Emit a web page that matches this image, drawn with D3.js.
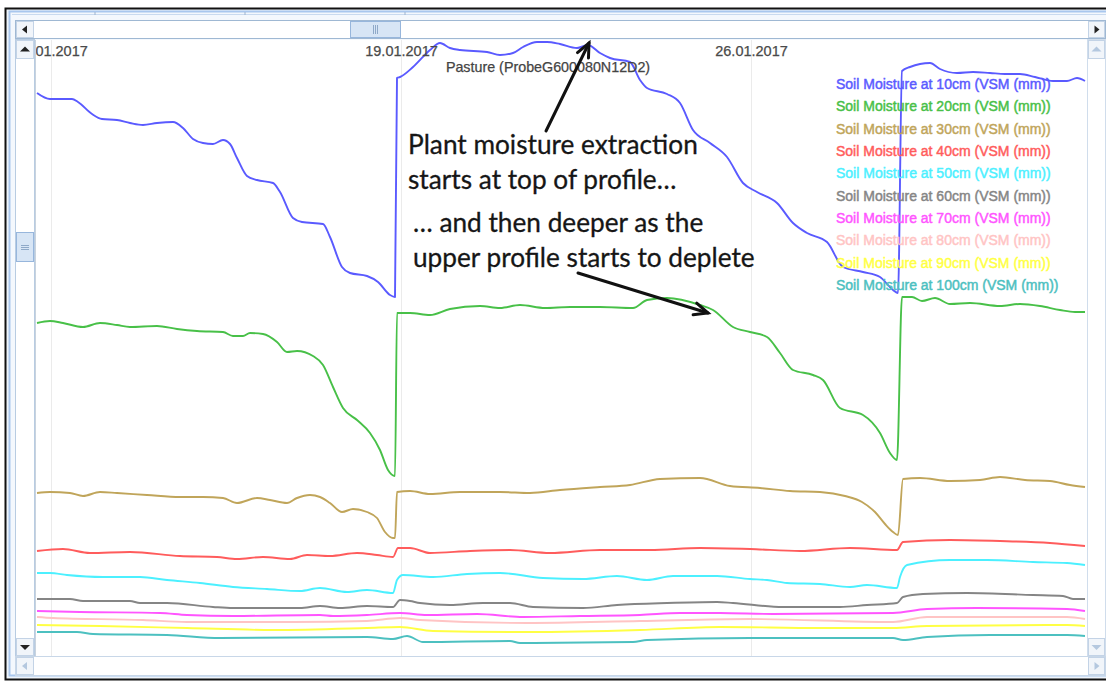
<!DOCTYPE html>
<html><head><meta charset="utf-8">
<script src="https://cdn.jsdelivr.net/npm/d3@7"></script>
<style>
html,body{margin:0;padding:0;background:#fff;overflow:hidden;}
svg{display:block;font-family:"Liberation Sans",Arial,sans-serif;}
</style></head><body>
<svg id="chart" width="1106" height="682"></svg>
<script>
// ---------------- DATA ----------------
// time = day offset from 12.01.2017 00:00, value = soil moisture (VSM, mm, relative units)
const tickLabels = ["12.01.2017", "19.01.2017", "26.01.2017"];
const chartTitle = "Pasture (ProbeG600080N12D2)";
const seriesNames = [
  "Soil Moisture at 10cm (VSM (mm))", "Soil Moisture at 20cm (VSM (mm))",
  "Soil Moisture at 30cm (VSM (mm))", "Soil Moisture at 40cm (VSM (mm))",
  "Soil Moisture at 50cm (VSM (mm))", "Soil Moisture at 60cm (VSM (mm))",
  "Soil Moisture at 70cm (VSM (mm))", "Soil Moisture at 80cm (VSM (mm))",
  "Soil Moisture at 90cm (VSM (mm))", "Soil Moisture at 100cm (VSM (mm))"
];
const seriesColors = ["#5a5aff", "#48c048", "#c0a55a", "#ff5c5c", "#4cf0ff",
                      "#858585", "#ff55ff", "#ffc4c4", "#ffff44", "#4cc0c0"];

const sm10 = [[-0.28,112.6],[-0.02,111.4],[0.42,111.4],[0.54,110.8],[0.82,108.4],[1.02,107.4],[1.32,107.2],[1.58,106.6],[1.84,106.2],[2.12,106.6],[2.44,106.8],[2.64,105.6],[2.84,103.4],[3.04,102.6],[3.24,102.4],[3.44,103.2],[3.58,102.4],[3.72,99.6],[3.92,96.0],[4.12,95.2],[4.44,94.6],[4.58,92.8],[4.84,87.6],[5.02,86.8],[5.44,86.4],[5.58,83.8],[5.82,77.8],[5.98,76.6],[6.32,76.0],[6.54,74.8],[6.78,72.2],[6.88,71.8],[6.92,115.6],[6.98,115.8],[7.24,117.8],[7.58,121.2],[7.78,122.6],[7.98,121.6],[8.18,121.2],[8.72,120.8],[8.98,120.2],[9.24,120.6],[9.44,121.8],[9.72,122.8],[9.92,122.8],[10.18,122.4],[10.52,121.6],[10.74,122.2],[10.98,120.6],[11.18,119.6],[11.58,118.8],[11.78,115.2],[11.92,113.6],[12.32,112.4],[12.58,110.6],[12.84,105.2],[13.18,102.6],[13.52,99.8],[13.84,94.6],[14.12,92.8],[14.52,90.6],[14.84,86.6],[15.12,84.6],[15.52,82.8],[15.84,77.8],[16.24,76.8],[16.58,75.8],[16.84,73.2],[16.94,72.6],[17.02,117.0],[17.18,117.8],[17.58,118.6],[17.78,117.4],[18.12,116.6],[18.44,116.8],[18.78,116.6],[19.08,116.4],[19.38,116.4],[19.68,115.8],[20.04,115.0],[20.32,115.0],[20.52,115.6],[20.68,115.0]];
const sm20 = [[-0.28,66.6],[-0.02,67.0],[0.24,66.6],[0.64,65.8],[0.98,66.6],[1.32,66.2],[1.58,65.8],[2.12,66.0],[2.52,65.4],[2.92,65.0],[3.44,64.8],[3.64,64.0],[3.84,64.0],[3.98,64.6],[4.24,64.4],[4.52,62.8],[4.72,60.8],[4.92,61.0],[5.24,60.0],[5.44,58.2],[5.64,53.8],[5.84,49.6],[6.12,47.2],[6.38,44.6],[6.58,41.2],[6.74,37.2],[6.88,36.0],[6.92,68.6],[7.18,68.6],[7.58,68.2],[7.98,69.4],[8.58,70.0],[8.98,69.6],[9.38,70.2],[9.88,69.6],[10.38,69.8],[10.98,69.8],[11.64,69.6],[11.92,71.2],[12.32,71.6],[12.98,70.2],[13.24,69.2],[13.64,65.8],[13.98,64.8],[14.32,63.8],[14.58,60.6],[14.84,57.2],[15.24,56.2],[15.44,55.2],[15.78,49.6],[16.24,48.2],[16.58,44.6],[16.78,40.6],[16.92,39.2],[17.02,71.8],[17.22,71.8],[17.42,71.0],[17.68,71.6],[17.98,70.4],[18.38,70.6],[18.98,70.0],[19.38,70.4],[19.78,70.0],[20.18,69.2],[20.48,68.8],[20.68,68.8]];
const sm30 = [[-0.28,32.6],[-0.02,32.8],[0.38,32.6],[0.64,32.0],[0.98,32.8],[1.32,32.6],[1.92,32.2],[2.58,31.8],[3.04,31.8],[3.44,31.6],[3.72,30.6],[4.12,31.6],[4.38,31.2],[4.72,30.6],[4.92,31.6],[5.18,32.2],[5.38,31.8],[5.58,30.6],[5.82,28.8],[6.04,29.4],[6.32,28.8],[6.52,27.6],[6.68,24.8],[6.84,23.6],[6.88,23.6],[6.92,32.8],[7.18,33.0],[7.58,32.4],[8.18,32.8],[8.98,32.8],[9.58,32.6],[10.18,33.2],[10.98,33.8],[11.58,34.2],[12.18,35.4],[12.98,35.6],[13.58,34.0],[14.18,33.6],[14.78,33.0],[15.38,32.8],[15.88,32.0],[16.22,30.8],[16.48,28.8],[16.68,26.4],[16.84,24.8],[16.94,24.2],[17.04,35.4],[17.38,35.6],[17.98,35.0],[18.58,35.2],[18.98,35.8],[19.48,35.2],[19.98,35.0],[20.38,34.2],[20.68,33.8]];
const sm40 = [[-0.28,21.0],[0.24,21.4],[0.78,20.6],[1.58,20.8],[2.58,20.0],[3.32,19.8],[3.72,19.4],[4.24,19.8],[4.78,19.4],[5.12,20.2],[5.58,20.0],[6.12,20.6],[6.52,20.2],[6.84,19.8],[6.94,21.6],[7.18,21.6],[7.58,20.6],[8.38,21.0],[9.18,21.2],[9.98,20.6],[10.98,21.2],[11.98,21.2],[12.98,21.6],[13.98,21.4],[14.98,21.0],[15.98,21.6],[16.92,21.2],[17.04,22.8],[17.98,23.2],[18.98,23.0],[19.98,22.6],[20.68,22.0]];
const sm50 = [[-0.28,16.6],[-0.02,16.6],[0.32,16.2],[1.04,15.8],[1.78,15.8],[2.32,15.2],[2.98,14.6],[3.64,13.8],[4.32,13.4],[4.98,13.0],[5.38,13.6],[5.92,12.8],[6.32,13.2],[6.84,12.6],[6.92,15.2],[7.04,16.2],[7.64,15.8],[8.32,16.4],[8.98,16.6],[9.84,15.6],[10.64,15.4],[11.32,16.0],[11.92,15.2],[12.44,16.0],[13.32,16.0],[13.98,15.4],[14.32,15.2],[14.72,14.6],[15.38,14.4],[15.98,13.8],[16.32,14.2],[16.92,13.6],[16.98,15.8],[17.12,18.2],[17.98,19.2],[18.72,19.2],[19.64,18.8],[20.32,18.6],[20.68,18.2]];
const sm60 = [[-0.28,11.4],[0.38,11.4],[0.64,11.0],[1.58,11.0],[1.78,10.6],[2.32,10.6],[3.24,9.8],[3.64,9.6],[4.58,9.6],[4.98,9.6],[5.38,10.0],[5.78,9.6],[6.32,10.0],[6.84,9.8],[6.98,11.2],[7.18,11.0],[7.38,10.6],[7.98,10.2],[8.64,10.6],[9.18,10.6],[9.64,9.8],[10.64,9.6],[11.32,10.2],[12.32,10.6],[13.32,10.8],[13.64,10.6],[14.64,9.8],[15.78,9.8],[16.32,10.2],[16.92,10.6],[17.04,11.8],[17.44,12.4],[18.32,12.6],[19.64,12.2],[20.24,12.0],[20.44,11.4],[20.68,11.4]];
const sm70 = [[-0.28,9.0],[0.58,8.8],[2.18,8.6],[2.72,8.2],[3.64,8.0],[5.38,8.2],[5.64,8.0],[6.32,8.2],[6.98,8.6],[7.52,8.2],[8.52,8.4],[9.44,7.8],[10.58,8.0],[11.78,8.2],[12.58,8.6],[13.38,8.6],[14.44,8.4],[16.84,8.6],[17.52,9.4],[18.52,9.6],[20.32,9.4],[20.68,9.0]];
const sm80 = [[-0.28,7.8],[0.04,7.6],[1.84,7.2],[2.72,6.8],[4.84,6.8],[6.32,7.0],[6.98,7.6],[7.38,7.2],[9.52,6.6],[11.78,7.0],[13.98,7.4],[16.84,6.8],[17.52,7.8],[18.58,7.8],[20.32,7.8],[20.68,7.4]];
const sm90 = [[-0.28,6.2],[0.98,6.0],[2.72,5.6],[4.44,5.2],[6.32,5.6],[6.98,5.8],[7.64,5.0],[9.52,4.8],[11.78,5.2],[13.38,5.8],[15.38,5.6],[16.84,5.6],[17.52,6.0],[20.32,6.2],[20.68,6.0]];
const sm100 = [[-0.28,4.8],[0.52,4.8],[0.84,4.4],[2.32,4.2],[3.38,3.6],[6.32,3.8],[6.84,3.4],[7.12,4.0],[7.44,2.8],[9.18,3.0],[9.38,2.6],[11.64,2.8],[11.92,3.2],[13.98,3.6],[16.84,3.6],[17.04,3.2],[17.52,3.8],[18.78,4.2],[20.32,4.2],[20.68,4.0]];

const annotation1 = ["Plant moisture extraction", "starts at top of profile\u2026"];
const annotation2 = ["\u2026 and then deeper as the", "upper profile starts to deplete"];

// ---------------- LAYOUT ----------------
const allSeries = [sm10, sm20, sm30, sm40, sm50, sm60, sm70, sm80, sm90, sm100];
const svg = d3.select("#chart");
const P = {l: 35, t: 40, r: 1087, b: 656};
const baseMs = Date.UTC(2017, 0, 12);
const toDate = d => new Date(baseMs + d * 864e5);
const x = d3.scaleUtc().domain([toDate(-0.32), toDate(20.72)]).range([P.l, P.r]);
const y = d3.scaleLinear().domain([0, 123.2]).range([P.b, P.t]);
const parse = d3.utcParse("%d.%m.%Y");

// ---- window chrome ----
svg.append("rect").attr("x",0).attr("y",0).attr("width",1106).attr("height",682).attr("fill","#fff");
svg.append("rect").attr("x",5.5).attr("y",8.5).attr("width",1110).attr("height",671).attr("fill","#eef4fb").attr("stroke","#111").attr("stroke-width",2);
svg.append("rect").attr("x",9.5).attr("y",11.5).attr("width",1110).attr("height",664).attr("fill","#f4f8fd").attr("stroke","#a9c7ee").attr("stroke-width",2);
svg.append("line").attr("x1",12).attr("x2",1106).attr("y1",14.5).attr("y2",14.5).attr("stroke","#c9daef");
[95,245,405].forEach(t=>svg.append("line").attr("x1",t).attr("x2",t).attr("y1",12).attr("y2",15).attr("stroke","#9db4d0"));

function arrowBtn(bx, by, w, h, dir, dark){
  svg.append("rect").attr("x",bx+0.5).attr("y",by+0.5).attr("width",w-1).attr("height",h-1)
    .attr("fill","#f1f5fa").attr("stroke","#c3d3e6");
  const cx = bx + w/2, cy = by + h/2, s = 4;
  let pts;
  if (dir==="left") pts=[[cx-s/2-1,cy],[cx+s/2,cy-s],[cx+s/2,cy+s]];
  if (dir==="right") pts=[[cx+s/2+1,cy],[cx-s/2,cy-s],[cx-s/2,cy+s]];
  if (dir==="up") pts=[[cx,cy-s/2-1],[cx-s-1,cy+s/2],[cx+s+1,cy+s/2]];
  if (dir==="down") pts=[[cx,cy+s/2+1],[cx-s-1,cy-s/2],[cx+s+1,cy-s/2]];
  svg.append("polygon").attr("points",pts.map(p=>p.join(",")).join(" ")).attr("fill",dark?"#222":"#b4c8df");
}
// top horizontal scrollbar
svg.append("rect").attr("x",15.5).attr("y",20.5).attr("width",1090).attr("height",18).attr("fill","#fff").attr("stroke","#9fb8d3");
arrowBtn(16,21,18,17,"left",true);
arrowBtn(1088,21,17,17,"right",true);
svg.append("rect").attr("x",350.5).attr("y",21.5).attr("width",50).attr("height",16).attr("fill","#d7e5f5").attr("stroke","#97b6dc");
[373,375,377].forEach(gx=>svg.append("line").attr("x1",gx+0.5).attr("x2",gx+0.5).attr("y1",25).attr("y2",34).attr("stroke","#8fa9c8"));
// left vertical scrollbar
svg.append("rect").attr("x",15.5).attr("y",39.5).attr("width",19).attr("height",617).attr("fill","#fff").attr("stroke","#b8cce2");
arrowBtn(16,40,18,19,"up",true);
arrowBtn(16,638,18,18,"down",true);
svg.append("rect").attr("x",16.5).attr("y",232.5).attr("width",17).attr("height",29).attr("fill","#d7e5f5").attr("stroke","#97b6dc");
[245,247,249].forEach(gy=>svg.append("line").attr("x1",21).attr("x2",29).attr("y1",gy+0.5).attr("y2",gy+0.5).attr("stroke","#8fa9c8"));
// right vertical scrollbar
svg.append("rect").attr("x",1087.5).attr("y",39.5).attr("width",18).attr("height",617).attr("fill","#fff").attr("stroke","#d0ddec");
arrowBtn(1088,40,17,19,"up",false);
arrowBtn(1088,638,17,18,"down",false);
// bottom horizontal scrollbar
svg.append("rect").attr("x",15.5).attr("y",656.5).attr("width",1090).attr("height",19).attr("fill","#fff").attr("stroke","#c8d7e8");
arrowBtn(16,657,18,18,"left",false);
arrowBtn(1088,657,17,18,"right",false);

// ---- plot area ----
svg.append("rect").attr("x",P.l).attr("y",P.t).attr("width",P.r-P.l).attr("height",P.b-P.t).attr("fill","#fff");
svg.append("line").attr("x1",P.l+0.5).attr("x2",P.l+0.5).attr("y1",P.t).attr("y2",P.b).attr("stroke","#c9d3de");
svg.append("defs").append("clipPath").attr("id","plotclip").append("rect")
  .attr("x",P.l+1).attr("y",P.t).attr("width",P.r-P.l-1).attr("height",P.b-P.t);
const g = svg.append("g").attr("clip-path","url(#plotclip)");

const tickDates = tickLabels.map(parse);
// gridlines
const grid = g.append("g").attr("transform",`translate(0,${P.t})`)
  .call(d3.axisBottom(x).tickValues(tickDates).tickSize(P.b-P.t).tickFormat(""));
grid.select(".domain").remove();
grid.selectAll(".tick line").attr("stroke","#ebebeb");

// series lines
const line = d3.line().x(d=>x(toDate(d[0]))).y(d=>y(d[1])).curve(d3.curveMonotoneX);
allSeries.forEach((s,i)=>{
  g.append("path").datum(s).attr("d",line).attr("fill","none")
    .attr("stroke",seriesColors[i]).attr("stroke-width",1.9).attr("stroke-linejoin","round");
});

// date labels (top, inside plot)
const lab = g.append("g").attr("transform",`translate(0,${P.t})`)
  .call(d3.axisBottom(x).tickValues(tickDates).tickSize(0).tickPadding(6).tickFormat(d3.utcFormat("%d.%m.%Y")));
lab.select(".domain").remove();
lab.selectAll("text").attr("fill","#4a4a4a").attr("stroke","#4a4a4a").attr("stroke-width",0.25)
  .style("font-size","14.5px").style("font-family","'Liberation Sans',Arial,sans-serif");

// title
svg.append("text").attr("x",548).attr("y",72).attr("text-anchor","middle")
  .attr("fill","#444").attr("stroke","#444").attr("stroke-width",0.25).style("font-size","14.3px").text(chartTitle);

// legend
const leg = svg.append("g");
seriesNames.forEach((n,i)=>{
  leg.append("text").attr("x",836).attr("y",84 + i*22.35).attr("dy","0.36em")
    .attr("fill",seriesColors[i]).attr("stroke",seriesColors[i]).attr("stroke-width",0.45)
    .style("font-size","14px").text(n);
});

// annotations
const ann = svg.append("g").attr("fill","#161616").attr("stroke","#161616").attr("stroke-width",0.3)
  .style("font-family","Lato,'Open Sans',sans-serif");
const t1 = ann.append("text").attr("x",408).attr("y",154).style("font-size","22px").text(annotation1[0]);
const w = t1.node().getComputedTextLength();
const fs = 22 * 290 / w;
t1.style("font-size",fs+"px");
ann.append("text").attr("x",408).attr("y",189).style("font-size",fs+"px").text(annotation1[1]);
ann.append("text").attr("x",413).attr("y",232).style("font-size",fs+"px").text(annotation2[0]);
ann.append("text").attr("x",413).attr("y",267).style("font-size",fs+"px").text(annotation2[1]);

function arrow(x1,y1,x2,y2){
  const a = Math.atan2(y2-y1,x2-x1), L = 15, sp = 0.42;
  svg.append("line").attr("x1",x1).attr("y1",y1).attr("x2",x2).attr("y2",y2)
    .attr("stroke","#111").attr("stroke-width",3).attr("stroke-linecap","round");
  svg.append("path").attr("d",`M${x2-L*Math.cos(a-sp)},${y2-L*Math.sin(a-sp)}L${x2},${y2}L${x2-L*Math.cos(a+sp)},${y2-L*Math.sin(a+sp)}`)
    .attr("fill","none").attr("stroke","#111").attr("stroke-width",3).attr("stroke-linecap","round").attr("stroke-linejoin","miter");
}
arrow(546,131,589,43);
arrow(578,273,708,313);
</script>
</body></html>
